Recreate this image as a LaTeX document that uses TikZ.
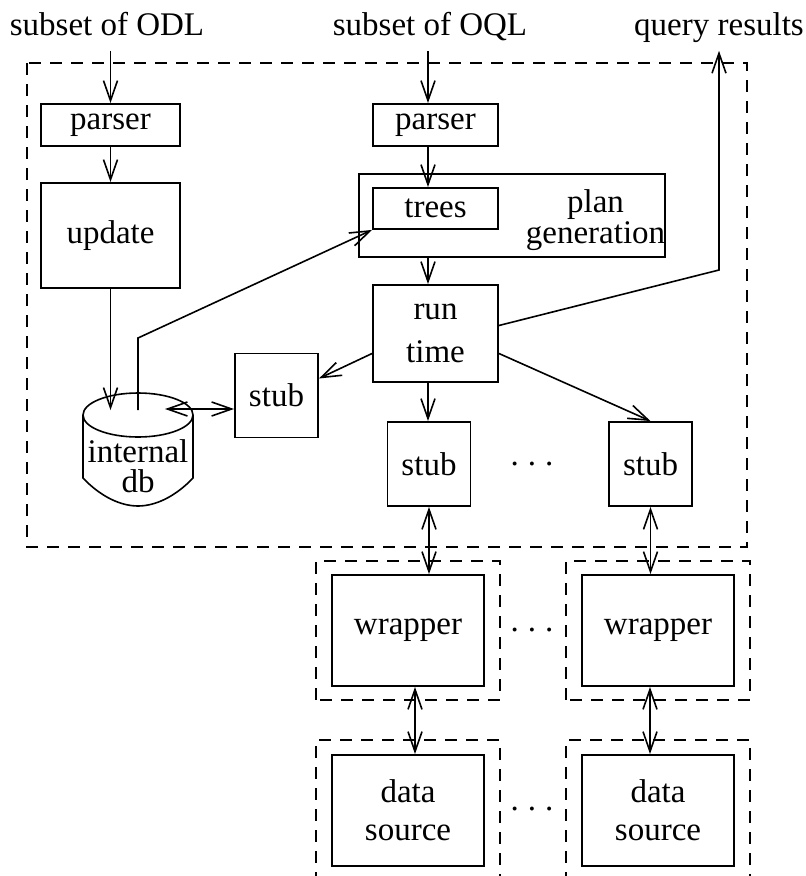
\documentclass[tikz,border=0pt]{standalone}
\usepackage{fontspec}
\setmainfont{Liberation Serif}
\usetikzlibrary{arrows.meta, positioning}

\begin{document}
\begin{tikzpicture}[->, >={Straight Barb[length=20bp,width=14bp]}, line width=1.6bp,
    x=1bp, y=1bp, font=\fontsize{33bp}{38bp}\selectfont]
    \tikzstyle{box}=[rectangle, draw=black, line width=1.9bp, inner sep=0pt, align=center]
    \tikzstyle{parser box}=[box, minimum height=42bp]
    \tikzstyle{stub box}=[box, minimum width=83bp, minimum height=84bp]
    \tikzstyle{source box}=[box, minimum width=152bp, minimum height=111bp]
    \tikzstyle{group}=[-, dash pattern=on 12bp off 9bp, line width=1.4bp]
    \tikzstyle{annot}=[anchor=base, inner sep=8bp, text depth=7bp]

    \useasboundingbox (0,0) rectangle (806,-876);

    % Draw the inputs and the output
    \node[annot] (odl) at (107,-35) {subset of ODL};
    \node[annot] (oql) at (430,-35) {subset of OQL};
    \node[annot] (res) at (719,-35) {query results};

    % Draw the mediator boundary
    \draw[group] (27,-63) rectangle (747,-547);
    \coordinate (col) at (428,0);

    % Draw the ODL side
    \node[parser box, minimum width=139bp] (P-1) at (110.5,-125) {parser};
    \node[box, minimum width=139bp, minimum height=105bp] (upd) at (110.5,-235.5) {update};

    % Draw the internal db
    \node[inner sep=0pt, align=center] (db) at (138,-466) {internal\\[-8bp]db};
    \draw[-] (138,-415) ellipse [x radius=55bp, y radius=22bp];
    \draw[-] (83,-415) -- (83,-478) .. controls (100,-496) and (120,-506) .. (138,-506)
        .. controls (156,-506) and (176,-496) .. (193,-478) -- (193,-415);
    \coordinate (db in) at (110.5,-410);
    \coordinate (db out) at (138,-410);
    \coordinate (db link) at (165,-409);

    % Draw the OQL side
    \node[parser box, minimum width=125bp] (P-2) at (435.5,-125) {parser};
    \node[box, minimum width=306bp, minimum height=83bp] (plan) at (512,-215.5) {};
    \node[inner sep=0pt, align=center, anchor=east] (plan text) at ([yshift=-5bp]plan.east) {plan\\[-7bp]generation};
    \node[box, minimum width=125bp, minimum height=41bp] (trees) at (435.5,-208.5) {trees};
    \node[box, minimum width=125bp, minimum height=97bp] (run) at (435.5,-333.5) {run\\[5bp]time};
    \coordinate (res bend) at (719,-270);

    % Draw the stubs
    \node[stub box] (S-0) at (276.5,-395.5) {stub};
    \foreach \name / \x in {1/429, 2/650.5}
        \node[stub box] (S-\name) at (\x,-464) {stub};

    % Draw the wrappers and the data sources
    \foreach \name / \x in {1/408, 2/658}
    {
        \node[source box] (W-\name) at (\x,-630.5) {wrapper};
        \node[source box] (D-\name) at (\x,-810.5) {data\\[0bp]source};
        \draw[group] ([shift={(-15,-13)}]W-\name.south west) rectangle ([shift={(15,13)}]W-\name.north east);
        \draw[group] ([shift={(-15,-80)}]D-\name.south west) |- ([shift={(15,14)}]D-\name.north east) -- ++(0,-200);
    }
    \node[annot] (dots-s) at (532,-465) {.\hspace{9bp}.\hspace{9bp}.};
    \node[annot] (dots-w) at (532,-631) {.\hspace{9bp}.\hspace{9bp}.};
    \node[annot] (dots-d) at (532,-810) {.\hspace{9bp}.\hspace{9bp}.};

    % Connect the ODL side
    \draw (odl.south -| P-1.north) -- (P-1.north);
    \draw (P-1) -- (upd);
    \draw (upd) -- (db in);
    \draw (db out) -- ++(0,72) -- (trees.south west);
    \draw[<->] (db link) -- (db link -| S-0.west);

    % Connect the OQL side
    \draw (oql.south -| col) -- (P-2.north -| col);
    \draw (P-2.south -| col) -- (trees.north -| col);
    \draw (plan.south -| col) -- (run.north -| col);
    \draw ([yshift=8bp]run.east) -- (res bend) -- (res.south);

    % Connect the run time with the stubs
    \draw ([yshift=-20bp]run.west) -- ([yshift=17bp]S-0.east);
    \draw (run.south -| col) -- (S-1.north -| col);
    \draw ([yshift=-20bp]run.east) -- (S-2.north);

    % Connect every stub with its wrapper and source
    \foreach \name / \dx in {1/7, 2/-8}
    {
        \draw[<->] (S-\name.south) -- (S-\name.south |- W-\name.north);
        \draw[<->] ([xshift=\dx bp]W-\name.south) -- ([xshift=\dx bp]D-\name.north);
    }
\end{tikzpicture}
\end{document}
